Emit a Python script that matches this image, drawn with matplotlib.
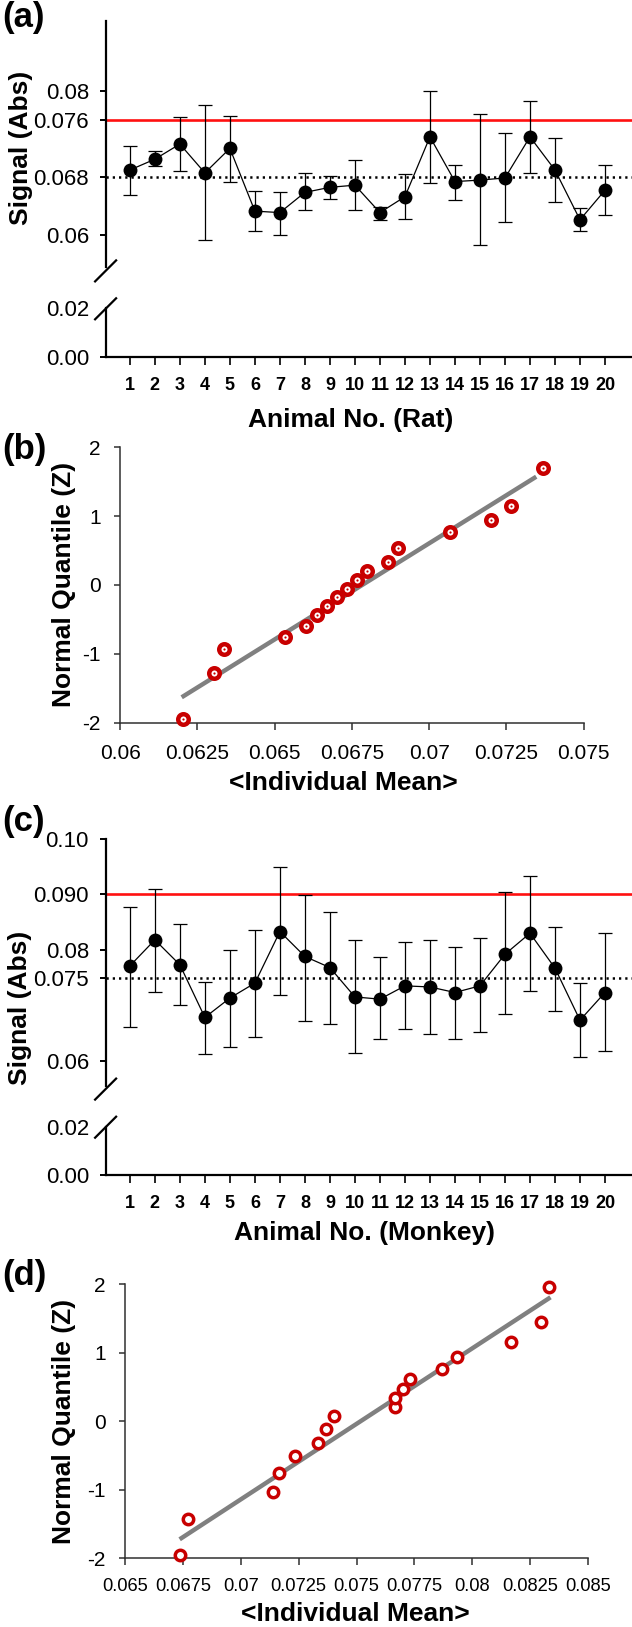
import numpy as np
import matplotlib
matplotlib.use('Agg')
import matplotlib.pyplot as plt
from matplotlib import font_manager as fm
from matplotlib.lines import Line2D

# ---------------- data ----------------
animals = list(range(1, 21))

rat_mean = [0.0690, 0.0705, 0.0726, 0.0686, 0.0720, 0.0633, 0.0631, 0.0659, 0.0666, 0.0669,
            0.0631, 0.0653, 0.0736, 0.0674, 0.0676, 0.0679, 0.0736, 0.0690, 0.0621, 0.0662]
rat_upper = [0.0723, 0.0716, 0.0764, 0.0780, 0.0765, 0.0661, 0.0660, 0.0686, 0.0682, 0.0704,
             0.0639, 0.0685, 0.0799, 0.0697, 0.0768, 0.0742, 0.0785, 0.0734, 0.0637, 0.0697]
rat_lower = [0.0655, 0.0695, 0.0688, 0.0593, 0.0674, 0.0605, 0.0600, 0.0634, 0.0650, 0.0634,
             0.0621, 0.0622, 0.0672, 0.0648, 0.0586, 0.0618, 0.0686, 0.0645, 0.0605, 0.0628]
rat_limit = 0.076
rat_avg = 0.068

monkey_mean = [0.0771, 0.0818, 0.0773, 0.0678, 0.0713, 0.0740, 0.0833, 0.0788, 0.0768, 0.0715,
               0.0711, 0.0735, 0.0733, 0.0723, 0.0735, 0.0792, 0.0830, 0.0767, 0.0673, 0.0723]
monkey_upper = [0.0878, 0.0910, 0.0847, 0.0742, 0.0800, 0.0836, 0.0950, 0.0899, 0.0868, 0.0818,
                0.0787, 0.0814, 0.0818, 0.0806, 0.0821, 0.0904, 0.0934, 0.0841, 0.0740, 0.0830]
monkey_lower = [0.0661, 0.0724, 0.0700, 0.0612, 0.0625, 0.0643, 0.0719, 0.0672, 0.0666, 0.0613,
                0.0639, 0.0657, 0.0648, 0.0639, 0.0651, 0.0684, 0.0726, 0.0690, 0.0606, 0.0618]
monkey_limit = 0.090
monkey_avg = 0.075

rat_qq_mean = [0.06202, 0.06304, 0.06337, 0.06534, 0.06603, 0.06636, 0.06668, 0.06701, 0.06735,
               0.06768, 0.06800, 0.06868, 0.06901, 0.07068, 0.07200, 0.07265, 0.07368]
rat_qq_z = [-1.942, -1.283, -0.925, -0.751, -0.591, -0.441, -0.305, -0.179, -0.053,
            0.073, 0.208, 0.334, 0.542, 0.770, 0.944, 1.153, 1.705]
rat_fit_mean = [0.06199, 0.07347]
rat_fit_z = [-1.631, 1.573]

monkey_qq_mean = [0.06739, 0.06771, 0.07138, 0.07166, 0.07235, 0.07335, 0.07370, 0.07401, 0.07667,
                  0.07667, 0.07702, 0.07733, 0.07868, 0.07932, 0.08168, 0.08296, 0.08331]
monkey_qq_z = [-1.951, -1.431, -1.028, -0.751, -0.513, -0.323, -0.119, 0.075, 0.202,
               0.333, 0.469, 0.610, 0.766, 0.940, 1.159, 1.451, 1.961]
monkey_fit_mean = [0.06736, 0.08338]
monkey_fit_z = [-1.723, 1.806]

rat_yticks = [0.06, 0.068, 0.076, 0.08]
rat_yticklabels = ['0.06', '0.068', '0.076', '0.08']
monkey_yticks = [0.06, 0.075, 0.08, 0.09, 0.10]
monkey_yticklabels = ['0.06', '0.075', '0.08', '0.090', '0.10']
low_yticks = [0.0, 0.02]
low_yticklabels = ['0.00', '0.02']

rat_qq_xticks = [0.06, 0.0625, 0.065, 0.0675, 0.07, 0.0725, 0.075]
rat_qq_xticklabels = ['0.06', '0.0625', '0.065', '0.0675', '0.07', '0.0725', '0.075']
monkey_qq_xticks = [0.065, 0.0675, 0.07, 0.0725, 0.075, 0.0775, 0.08, 0.0825, 0.085]
monkey_qq_xticklabels = ['0.065', '0.0675', '0.07', '0.0725', '0.075', '0.0775', '0.08', '0.0825', '0.085']
qq_zticks = [-2, -1, 0, 1, 2]
qq_zticklabels = ['-2', '-1', '0', '1', '2']

# ---------------- style ----------------
names = {f.name for f in fm.fontManager.ttflist}
SANS = 'Liberation Sans' if 'Liberation Sans' in names else 'DejaVu Sans'
HAS_NARROW = 'Liberation Sans Narrow' in names
NARROW = 'Liberation Sans Narrow' if HAS_NARROW else SANS
plt.rcParams['font.family'] = [SANS, 'DejaVu Sans']

W, H = 632, 1627
DPI = 100
fig = plt.figure(figsize=(W / DPI, H / DPI), dpi=DPI)


def rect(l, t, r, b):
    return [l / W, 1 - b / H, (r - l) / W, (b - t) / H]


RED_LINE = '#ff1010'
QQ_RED = '#c80000'


def slash(xc, yc, half=10.5):
    fig.add_artist(Line2D([(xc - half) / W, (xc + half) / W],
                          [1 - (yc + half) / H, 1 - (yc - half) / H],
                          transform=fig.transFigure, color='black', lw=1.6))


def broken_panel(top_px, up_bottom_px, low_top_px, low_bottom_px, ylim_up,
                 mean, upper, lower, limit, avg, yticks, yticklabels):
    L, R = 105.6, 631.5
    axu = fig.add_axes(rect(L, top_px, R, up_bottom_px))
    axl = fig.add_axes(rect(L, low_top_px, R, low_bottom_px))
    mean = np.array(mean)
    yerr = [mean - np.array(lower), np.array(upper) - mean]
    axu.errorbar(animals, mean, yerr=yerr, fmt='none', ecolor='black',
                 elinewidth=0.9, capsize=4.8, capthick=0.9, zorder=3)
    axu.plot(animals, mean, '-', color='black', lw=0.9, zorder=3)
    axu.plot(animals, mean, 'o', color='black', ms=10, markeredgewidth=0, zorder=4)
    axu.axhline(limit, color=RED_LINE, lw=1.9, zorder=2)
    axu.axhline(avg, color='black', lw=1.8, ls=(0, (0.9, 1.6)), zorder=2)
    for ax in (axu, axl):
        ax.set_xlim(0.03, 21.06)
        ax.spines['top'].set_visible(False)
        ax.spines['right'].set_visible(False)
        ax.spines['left'].set_linewidth(1.6)
        ax.spines['bottom'].set_linewidth(1.6)
        ax.patch.set_visible(False)
    axu.spines['bottom'].set_visible(False)
    axu.set_ylim(*ylim_up)
    axu.set_xticks([])
    axu.set_yticks(yticks)
    axu.set_yticklabels(yticklabels)
    axu.tick_params(axis='y', direction='out', length=4, width=1.4, pad=8, labelsize=16)
    axl.set_ylim(0, 0.02)
    axl.set_yticks(low_yticks)
    axl.set_yticklabels(low_yticklabels)
    axl.tick_params(axis='y', direction='out', length=4, width=1.4, pad=8, labelsize=16)
    axl.yaxis.get_major_ticks()[1].tick1line.set_visible(False)
    axl.set_xticks(animals)
    axl.set_xticklabels([str(a) for a in animals], fontfamily=NARROW, fontweight='bold')
    axl.tick_params(axis='x', direction='out', length=5.5, width=1.2, pad=9,
                    labelsize=14 if HAS_NARROW else 13)
    slash(L, up_bottom_px + 3.5)
    slash(L, low_top_px + 0.5)
    return axu, axl


def qq_panel(l, t, r, b, xlim, xticks, xticklabels, x, z, fx, fz, dot, xfont, xsize, xpad):
    ax = fig.add_axes(rect(l, t, r, b))
    ax.plot(fx, fz, color='#808080', lw=3.2, solid_capstyle='butt', zorder=2)
    if dot:
        ax.plot(x, z, 'o', ms=7.6, mfc='white', mec=QQ_RED, mew=3.2, zorder=3, clip_on=False)
        ax.plot(x, z, 'o', ms=1.6, mfc=QQ_RED, mec=QQ_RED, mew=0, zorder=4, clip_on=False)
    else:
        ax.plot(x, z, 'o', ms=7.5, mfc='white', mec=QQ_RED, mew=2.5, zorder=3, clip_on=False)
    ax.set_xlim(*xlim)
    ax.set_ylim(-2, 2)
    ax.set_xticks(xticks)
    ax.set_xticklabels(xticklabels, fontfamily=xfont)
    ax.set_yticks(qq_zticks)
    ax.set_yticklabels(qq_zticklabels)
    for s in ('top', 'right'):
        ax.spines[s].set_visible(False)
    for s in ('left', 'bottom'):
        ax.spines[s].set_color('#303030')
        ax.spines[s].set_linewidth(1.1)
    ax.tick_params(axis='y', direction='out', length=4, width=1.1, color='#303030', pad=10, labelsize=15)
    ax.tick_params(axis='x', direction='out', length=5, width=1.1, color='#303030', pad=xpad, labelsize=xsize)
    ax.patch.set_visible(False)
    return ax


# (a)
broken_panel(20.7, 267.4, 308.3, 356.7, (0.0555, 0.0897),
             rat_mean, rat_upper, rat_lower, rat_limit, rat_avg, rat_yticks, rat_yticklabels)
# (c)
broken_panel(839.0, 1085.6, 1126.7, 1175.0, (0.0555, 0.10),
             monkey_mean, monkey_upper, monkey_lower, monkey_limit, monkey_avg,
             monkey_yticks, monkey_yticklabels)
# (b)
qq_panel(120.2, 447.3, 583.5, 722.7, (0.06, 0.075), rat_qq_xticks, rat_qq_xticklabels,
         rat_qq_mean, rat_qq_z, rat_fit_mean, rat_fit_z, True, SANS, 15, 10)
# (d)
qq_panel(125.0, 1284.0, 588.0, 1558.3, (0.065, 0.085), monkey_qq_xticks, monkey_qq_xticklabels,
         monkey_qq_mean, monkey_qq_z, monkey_fit_mean, monkey_fit_z, False, NARROW,
         16.5 if HAS_NARROW else 13.2, 9)


def ftext(x, y, s, **kw):
    fig.text(x / W, 1 - y / H, s, ha='center', va='center', **kw)


LBL = dict(fontsize=19, fontweight='bold')
ftext(21, 148, 'Signal (Abs)', rotation=90, **LBL)
ftext(351, 420, 'Animal No. (Rat)', **LBL)
ftext(64.5, 584, 'Normal Quantile (Z)', rotation=90, **LBL)
ftext(343, 783, '<Individual Mean>', **LBL)
ftext(20, 1008, 'Signal (Abs)', rotation=90, **LBL)
ftext(365, 1233, 'Animal No. (Monkey)', **LBL)
ftext(64.5, 1421, 'Normal Quantile (Z)', rotation=90, **LBL)
ftext(355, 1614, '<Individual Mean>', **LBL)

PL = dict(fontsize=25, fontweight='bold')
ftext(23, 18, '(a)', **PL)
ftext(24, 449, '(b)', **PL)
ftext(24, 822, '(c)', **PL)
ftext(24, 1276, '(d)', **PL)

fig.savefig('out.png', dpi=DPI)
